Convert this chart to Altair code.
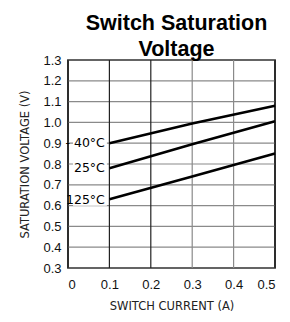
import altair as alt
import pandas as pd

# Data
series = ["-40°C", "25°C", "125°C"]
current = [0.1, 0.3, 0.5]
v_m40 = [0.90, 0.995, 1.08]
v_25 = [0.78, 0.895, 1.005]
v_125 = [0.63, 0.74, 0.85]

label_text = ["- 40°C", "25°C", "125°C"]
label_y = [0.90, 0.78, 0.627]

x_ticks = [0, 0.1, 0.2, 0.3, 0.4, 0.5]
y_ticks = [0.3, 0.4, 0.5, 0.6, 0.7, 0.8, 0.9, 1.0, 1.1, 1.2, 1.3]
x_grid_dark = [True, True, True, False, False, True]

rows = []
for s, vals in zip(series, [v_m40, v_25, v_125]):
    for c, v in zip(current, vals):
        rows.append({"series": s, "current": c, "voltage": v})
df = pd.DataFrame(rows)

lab = pd.DataFrame({"label": label_text, "y": label_y})
lab["x"] = 0.089
lab["x0"] = 0.012
lab["x1"] = 0.094
lab["y0"] = lab["y"] - 0.028
lab["y1"] = lab["y"] + 0.028

xg = pd.DataFrame({"x": x_ticks, "dark": x_grid_dark})
yg = pd.DataFrame({"y": y_ticks})

xs = alt.Scale(domain=[0, 0.5], nice=False, zero=False)
ys = alt.Scale(domain=[0.3, 1.3], nice=False, zero=False)

xaxis = alt.Axis(values=x_ticks, title="SWITCH CURRENT (A)",
                 labelExpr="datum.value == 0 ? '0' : format(datum.value, '.1f')",
                 grid=False, ticks=False, domain=False, labelPadding=10,
                 labelOverlap=False, titlePadding=9)
yaxis = alt.Axis(values=y_ticks, title="SATURATION VOLTAGE (V)",
                 format=".1f", grid=False, ticks=False, domain=False,
                 labelPadding=7, labelOverlap=False, titlePadding=12)

tick_font = "Liberation Sans Narrow, Liberation Sans"

hgrid = alt.Chart(yg).mark_rule(color="#8a8a8a", strokeWidth=1.2).encode(
    y=alt.Y("y:Q", scale=ys, axis=yaxis)
)
vgrid = alt.Chart(xg).mark_rule(strokeWidth=1.2).encode(
    x=alt.X("x:Q", scale=xs, axis=xaxis),
    color=alt.condition("datum.dark", alt.value("#222"), alt.value("#8a8a8a")),
)

lines = alt.Chart(df).mark_line(color="black", strokeWidth=2.6).encode(
    x=alt.X("current:Q", scale=xs, axis=xaxis),
    y=alt.Y("voltage:Q", scale=ys, axis=yaxis),
    detail="series:N",
)

boxes = alt.Chart(lab).mark_rect(color="white").encode(
    x=alt.X("x0:Q", scale=xs, axis=xaxis), x2="x1:Q",
    y=alt.Y("y0:Q", scale=ys, axis=yaxis), y2="y1:Q",
)

texts = alt.Chart(lab).mark_text(align="right", baseline="middle", fontSize=12.5,
                                 font="DejaVu Sans", color="black").encode(
    x=alt.X("x:Q", scale=xs, axis=xaxis), y=alt.Y("y:Q", scale=ys, axis=yaxis),
    text="label:N"
)

chart = alt.layer(hgrid, vgrid, boxes, lines, texts).properties(
    width=207, height=208,
    title=alt.TitleParams(["Switch Saturation", "Voltage"], font="Liberation Sans",
                          fontSize=21.5, fontWeight="bold", color="black",
                          lineHeight=26, anchor="middle", frame="group", offset=-6, dx=5),
    autosize=alt.AutoSizeParams(type="none"),
    padding={"left": 60, "top": 52, "right": 7, "bottom": 46},
).configure_view(stroke="black", strokeWidth=1.5).configure_axis(
    labelFont=tick_font, labelFontSize=13, labelColor="#111",
    titleFont="DejaVu Sans", titleFontSize=11.5, titleFontWeight="normal", titleColor="#222",
)

chart.save("out.html", embed_options={"renderer": "svg", "actions": False})
